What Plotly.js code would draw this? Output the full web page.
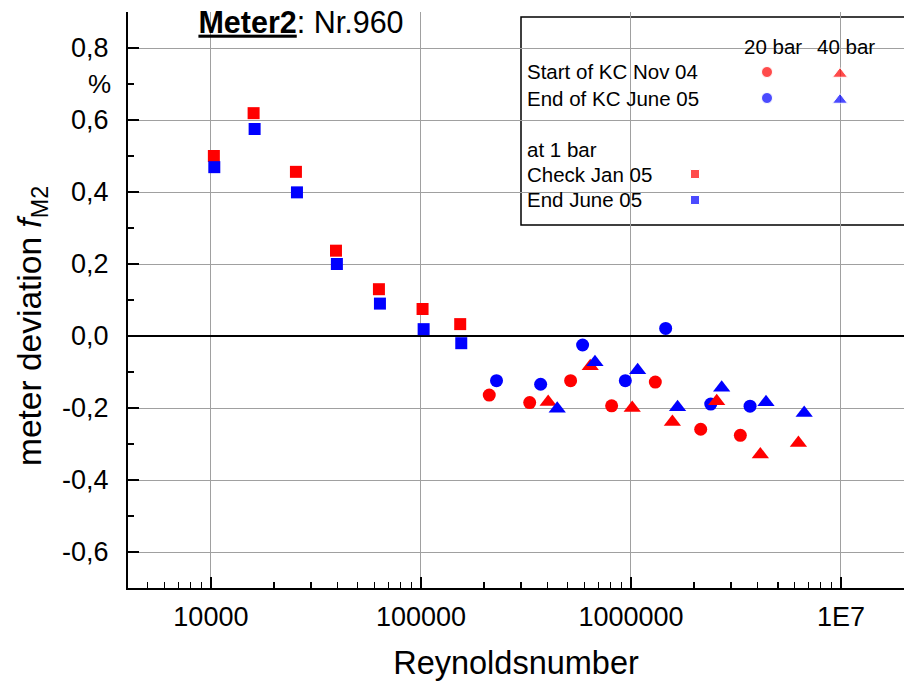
<!DOCTYPE html>
<html>
<head>
<meta charset="utf-8">
<script src="https://cdn.plot.ly/plotly-3.0.1.min.js"></script>
<style>html,body{margin:0;padding:0;background:#fff;}#chart{width:904px;height:681px;}</style>
</head>
<body>
<div id="chart"></div>
<script>
// ---- data (Reynolds number, meter deviation in %) ----
const checkJan05Re  = [10330, 15970, 25400, 39400, 63100, 101800, 153800];
const checkJan05Val = [0.500, 0.619, 0.456, 0.237, 0.130, 0.075, 0.033];
const endJune05Re   = [10380, 16150, 25690, 39800, 63800, 103000, 155600];
const endJune05Val  = [0.469, 0.575, 0.399, 0.200, 0.090, 0.019, -0.020];

const startKC20Re   = [211500, 329500, 516000, 809000, 1306000, 2148000, 3317000];
const startKC20Val  = [-0.164, -0.185, -0.124, -0.194, -0.128, -0.259, -0.276];
const endKC20Re     = [229000, 371500, 588500, 940000, 1463000, 2398000, 3690000];
const endKC20Val    = [-0.124, -0.134, -0.025, -0.124, 0.021, -0.189, -0.195];

const startKC40Re   = [403500, 640000, 1014000, 1575000, 2560000, 4130000, 6270000];
const startKC40Val  = [-0.183, -0.084, -0.200, -0.239, -0.181, -0.329, -0.297];
const endKC40Re     = [445600, 674000, 1076000, 1667000, 2704000, 4395000, 6680000];
const endKC40Val    = [-0.202, -0.073, -0.095, -0.198, -0.144, -0.184, -0.214];

const xTickVals  = [1e4, 1e5, 1e6, 1e7];
const xTickText  = ['10000', '100000', '1000000', '1E7'];
const yTickVals  = [-0.6, -0.4, -0.2, 0.0, 0.2, 0.4, 0.6, 0.8];
const yTickText  = ['-0,6', '-0,4', '-0,2', '0,0', '0,2', '0,4', '0,6', '0,8'];

const legendRows = ['Start of KC Nov 04', 'End of KC June 05'];
const legendCols = ['20 bar', '40 bar'];
const legendRows1bar = ['Check Jan 05', 'End June 05'];

// ---- layout geometry (pixels) ----
const L = 128, R = 904, T = 12, B = 588;
const W = R - L, H = B - T;
const px = p => (p - L) / W;
const py = p => (B - p) / H;

const RED = '#ff0000', BLUE = '#0000ff';
const FONT = 'Liberation Sans, Arial, sans-serif';

const traces = [
  {x: checkJan05Re, y: checkJan05Val, mode: 'markers', type: 'scatter', name: 'Check Jan 05',
   marker: {symbol: 'square', size: 12, color: RED}},
  {x: endJune05Re, y: endJune05Val, mode: 'markers', type: 'scatter', name: 'End June 05',
   marker: {symbol: 'square', size: 12, color: BLUE}},
  {x: startKC20Re, y: startKC20Val, mode: 'markers', type: 'scatter', name: 'Start of KC Nov 04, 20 bar',
   marker: {symbol: 'circle', size: 13, color: RED}},
  {x: endKC20Re, y: endKC20Val, mode: 'markers', type: 'scatter', name: 'End of KC June 05, 20 bar',
   marker: {symbol: 'circle', size: 13, color: BLUE}},
  {x: startKC40Re, y: startKC40Val, mode: 'markers', type: 'scatter', name: 'Start of KC Nov 04, 40 bar',
   marker: {symbol: 'triangle-up', size: 15, color: RED}},
  {x: endKC40Re, y: endKC40Val, mode: 'markers', type: 'scatter', name: 'End of KC June 05, 40 bar',
   marker: {symbol: 'triangle-up', size: 15, color: BLUE}},
  // legend key symbols on a hidden pixel-based overlay axis
  {x: [767, 840, 767, 840, 695, 695], y: [72, 74, 98, 100, 174, 200], xaxis: 'x2', yaxis: 'y2',
   mode: 'markers', type: 'scatter', hoverinfo: 'skip',
   marker: {symbol: ['circle', 'triangle-up', 'circle', 'triangle-up', 'square', 'square'],
            size: [11, 13, 11, 13, 9, 9], color: [RED, RED, BLUE, BLUE, RED, BLUE]}}
];

const ann = [];
function txt(text, x, y, xanchor, size, angle) {
  ann.push({text: text, xref: 'paper', yref: 'paper', x: px(x), y: py(y), xanchor: xanchor, yanchor: 'middle',
            textangle: angle || 0,
            showarrow: false, font: {family: FONT, size: size || 20.5, color: '#000'}});
}
txt(legendCols[0], 773, 47, 'center');
txt(legendCols[1], 846, 47, 'center');
txt(legendRows[0], 525, 72, 'left');
txt(legendRows[1], 525, 98, 'left');
txt('at 1 bar', 525, 149, 'left');
txt(legendRows1bar[0], 525, 174, 'left');
txt(legendRows1bar[1], 525, 200, 'left');
txt('%', 113, 84, 'right', 26);
// y-axis title (placed as rotated text)
txt('meter deviation <i>f</i><sub>M2</sub>', 32, 326, 'center', 33.5, -90);

const layout = {
  width: 904, height: 681,
  margin: {l: L, r: 904 - R, t: T, b: 681 - B, pad: 0},
  paper_bgcolor: '#fff', plot_bgcolor: '#fff',
  showlegend: false,
  font: {family: FONT, color: '#000'},
  title: {text: '<b><u>Meter2</u></b>: Nr.960', font: {family: FONT, size: 30.5, color: '#000'},
          xref: 'container', yref: 'container', x: 301 / 904, xanchor: 'center', y: 1 - 22 / 681, yanchor: 'middle'},
  xaxis: {
    type: 'log', range: [Math.log10(4030), 7.3],
    tickmode: 'array', tickvals: xTickVals, ticktext: xTickText,
    ticks: 'inside', ticklen: 11, tickwidth: 1.5, tickcolor: '#000',
    showline: true, linecolor: '#000', linewidth: 2,
    showgrid: true, gridcolor: '#a0a0a0', gridwidth: 1,
    tickfont: {family: FONT, size: 27, color: '#000'},
    ticklabelstandoff: 4,
    minor: {dtick: 'D1', ticks: 'inside', ticklen: 6, tickwidth: 1.5, tickcolor: '#000', showgrid: false},
    title: {text: 'Reynoldsnumber', font: {family: FONT, size: 32.5, color: '#000'}, standoff: 22},
    automargin: false, zeroline: false, fixedrange: true
  },
  yaxis: {
    range: [-0.7, 0.9],
    tickmode: 'array', tickvals: yTickVals, ticktext: yTickText,
    ticks: 'inside', ticklen: 11, tickwidth: 1.5, tickcolor: '#000',
    showline: true, linecolor: '#000', linewidth: 2,
    showgrid: true, gridcolor: '#a0a0a0', gridwidth: 1,
    zeroline: true, zerolinecolor: '#000', zerolinewidth: 2,
    tickfont: {family: FONT, size: 27, color: '#000'},
    ticklabelstandoff: 12,
    minor: {dtick: 0.1, tick0: 0, ticks: 'inside', ticklen: 6, tickwidth: 1.5, tickcolor: '#000', showgrid: false},
    automargin: false, fixedrange: true
  },
  xaxis2: {overlaying: 'x', range: [L, R], visible: false, fixedrange: true},
  yaxis2: {overlaying: 'y', range: [B, T], visible: false, fixedrange: true},
  shapes: [
    {type: 'rect', xref: 'paper', yref: 'paper', x0: px(521), x1: px(906), y0: py(225), y1: py(17),
     line: {color: '#000', width: 1.5}, fillcolor: '#fff', layer: 'between'}
  ],
  annotations: ann
};

Plotly.newPlot('chart', traces, layout, {staticPlot: true, displayModeBar: false});
</script>
</body>
</html>
